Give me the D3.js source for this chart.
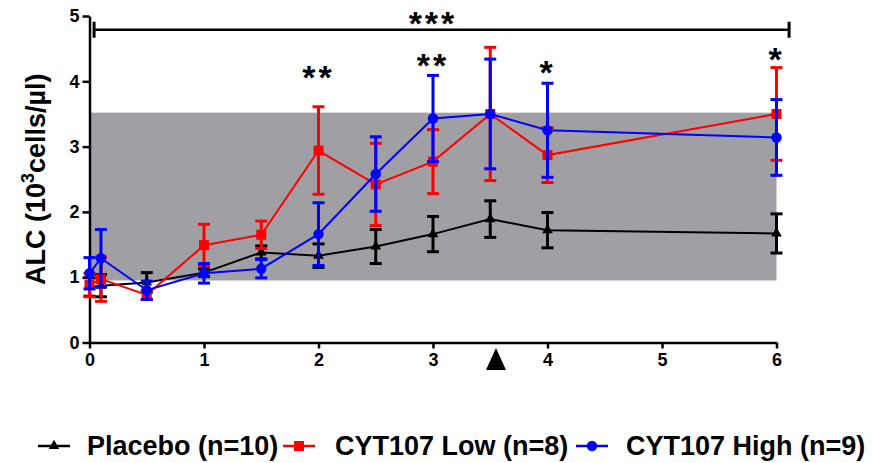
<!DOCTYPE html>
<html>
<head>
<meta charset="utf-8">
<script src="https://cdn.jsdelivr.net/npm/d3@7"></script>
<style>
  body { margin: 0; background: #fff; }
  svg { display: block; }
  text { font-family: "Liberation Sans", Arial, Helvetica, sans-serif; font-weight: bold; fill: #000; }
</style>
</head>
<body>
<svg id="chart" width="872" height="463"></svg>
<script>
// Absolute lymphocyte count over time (months), mean ± SEM per group
const timepoints = [0, 0.1, 0.5, 1, 1.5, 2, 2.5, 3, 3.5, 4, 6];

const placeboMean = [0.85, 0.87, 0.92, 1.07, 1.38, 1.33, 1.47, 1.66, 1.89, 1.72, 1.67];
const placeboSem  = [0.14, 0.17, 0.15, 0.06, 0.10, 0.18, 0.26, 0.27, 0.28, 0.27, 0.30];

const lowMean = [0.88, 0.97, 0.73, 1.49, 1.65, 2.94, 2.42, 2.77, 3.50, 2.87, 3.50];
const lowSem  = [0.18, 0.34, 0.07, 0.32, 0.21, 0.67, 0.63, 0.49, 1.02, 0.42, 0.71];

const highMean = [1.06, 1.29, 0.80, 1.06, 1.13, 1.66, 2.58, 3.43, 3.50, 3.25, 3.14];
const highSem  = [0.24, 0.44, 0.14, 0.15, 0.14, 0.48, 0.57, 0.66, 0.84, 0.72, 0.58];

const seriesNames = ["Placebo (n=10)", "CYT107 Low (n=8)", "CYT107 High (n=9)"];
const seriesColors = ["#000000", "#ff0000", "#0000ff"];

// Normal ALC reference range (shaded band)
const normalRange = [0.95, 3.52];

const xTicks = [0, 1, 2, 3, 4, 5, 6];
const yTicks = [0, 1, 2, 3, 4, 5];

// Significance marks
const sigTimes = [2, 3, 4, 6];
const sigText = ["**", "**", "*", "*"];
const sigLevel = [4.15, 4.33, 4.22, 4.42];
const bracketSpan = [0.04, 6.11];
const bracketLevel = 4.79;
const bracketText = "***";
const bracketTextLevel = 5.0;
const arrowTime = 3.55;

const svg = d3.select("#chart");
const x = d3.scaleLinear().domain([0, 6]).range([89.5, 776.5]);
const y = d3.scaleLinear().domain([0, 5]).range([342.5, 16]);

// Shaded normal range
svg.append("rect")
  .attr("x", x(0)).attr("width", x(6) - x(0))
  .attr("y", y(normalRange[1])).attr("height", y(normalRange[0]) - y(normalRange[1]))
  .attr("fill", "#a09fa4");

// Axes
const yAxis = svg.append("g").attr("transform", `translate(${x(0)},0)`)
  .call(d3.axisLeft(y).tickValues(yTicks).tickFormat(d3.format("d")).tickSize(7).tickSizeOuter(0).tickPadding(3));
const xAxis = svg.append("g").attr("transform", `translate(0,${y(0)})`)
  .call(d3.axisBottom(x).tickValues(xTicks).tickFormat(d3.format("d")).tickSize(6).tickSizeOuter(0).tickPadding(5));
[xAxis, yAxis].forEach(g => {
  g.selectAll("path, line").attr("stroke", "#000").attr("stroke-width", 2.5);
  g.selectAll("text").attr("font-size", 18).attr("font-weight", "bold")
    .attr("font-family", '"Liberation Sans", Arial, sans-serif').attr("fill", "#000");
});

// Y axis title
const yTitle = svg.append("text")
  .attr("transform", `translate(45,${(y(0) + y(5)) / 2}) rotate(-90)`)
  .attr("text-anchor", "middle")
  .attr("font-size", 27);
yTitle.append("tspan").text("ALC (10");
yTitle.append("tspan").text("3").attr("font-size", 18).attr("dy", -11);
yTitle.append("tspan").text("cells/µl)").attr("dy", 11);

// Series
const groups = [
  { mean: placeboMean, sem: placeboSem, symbol: d3.symbolTriangle, size: 50 },
  { mean: lowMean, sem: lowSem, symbol: d3.symbolSquare, size: 100 },
  { mean: highMean, sem: highSem, symbol: d3.symbolCircle, size: 85 }
];

const line = d3.line().x(d => x(d.t)).y(d => y(d.m));
const capHalf = 6;

groups.forEach((g, i) => {
  const color = seriesColors[i];
  const pts = timepoints.map((t, k) => ({ t, m: g.mean[k], s: g.sem[k] }));
  const layer = svg.append("g");

  layer.append("path").datum(pts)
    .attr("d", line).attr("fill", "none")
    .attr("stroke", color).attr("stroke-width", 2);

  const eb = layer.selectAll(".eb").data(pts).enter().append("g");
  eb.append("line")
    .attr("x1", d => x(d.t)).attr("x2", d => x(d.t))
    .attr("y1", d => y(d.m + d.s)).attr("y2", d => y(d.m - d.s))
    .attr("stroke", color).attr("stroke-width", 3);
  eb.append("line")
    .attr("x1", d => x(d.t) - capHalf).attr("x2", d => x(d.t) + capHalf)
    .attr("y1", d => y(d.m + d.s)).attr("y2", d => y(d.m + d.s))
    .attr("stroke", color).attr("stroke-width", 3);
  eb.append("line")
    .attr("x1", d => x(d.t) - capHalf).attr("x2", d => x(d.t) + capHalf)
    .attr("y1", d => y(d.m - d.s)).attr("y2", d => y(d.m - d.s))
    .attr("stroke", color).attr("stroke-width", 3);

  layer.selectAll(".pt").data(pts).enter().append("path")
    .attr("transform", d => `translate(${x(d.t)},${y(d.m)})`)
    .attr("d", d3.symbol().type(g.symbol).size(g.size))
    .attr("fill", color);
});

// Significance bracket
const by = y(bracketLevel);
svg.append("line").attr("x1", x(bracketSpan[0])).attr("x2", x(bracketSpan[1]))
  .attr("y1", by).attr("y2", by).attr("stroke", "#000").attr("stroke-width", 2.5);
bracketSpan.forEach(t => {
  svg.append("line").attr("x1", x(t)).attr("x2", x(t))
    .attr("y1", by - 8).attr("y2", by + 8).attr("stroke", "#000").attr("stroke-width", 3);
});
svg.append("text").attr("x", x(3)).attr("y", y(bracketTextLevel) + 19)
  .attr("text-anchor", "middle").attr("font-size", 34).attr("letter-spacing", 3)
  .text(bracketText);

sigTimes.forEach((t, i) => {
  svg.append("text").attr("x", x(t)).attr("y", y(sigLevel[i]) + 17)
    .attr("text-anchor", "middle").attr("font-size", 34).attr("letter-spacing", 3)
    .text(sigText[i]);
});

// Treatment marker under the time axis
const ax = x(arrowTime);
svg.append("path")
  .attr("d", `M${ax - 10},370 L${ax + 10},370 L${ax},348 Z`)
  .attr("fill", "#000");

// Legend
const legendY = 446;
const legendItems = [
  { lx: 38, tx: 87 },
  { lx: 283, tx: 335 },
  { lx: 576, tx: 626 }
];
legendItems.forEach((it, i) => {
  const lg = svg.append("g");
  lg.append("line").attr("x1", it.lx).attr("x2", it.lx + 32)
    .attr("y1", legendY).attr("y2", legendY)
    .attr("stroke", seriesColors[i]).attr("stroke-width", 2.5);
  lg.append("path")
    .attr("transform", `translate(${it.lx + 16},${legendY})`)
    .attr("d", d3.symbol().type(groups[i].symbol).size(groups[i].size))
    .attr("fill", seriesColors[i]);
  lg.append("text").attr("x", it.tx).attr("y", legendY + 9)
    .attr("font-size", 27).text(seriesNames[i]);
});
</script>
</body>
</html>
